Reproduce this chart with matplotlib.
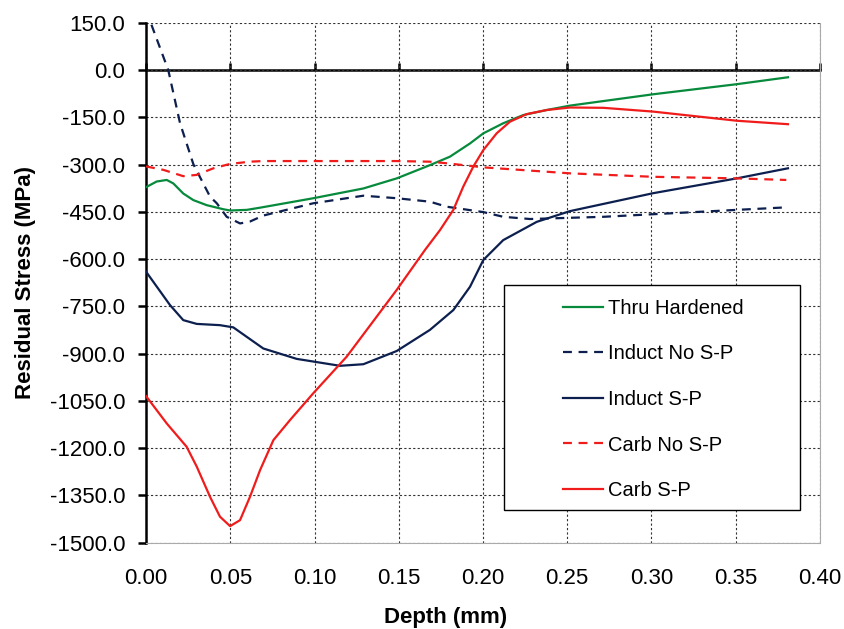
import matplotlib
matplotlib.use("Agg")
from matplotlib import pyplot as plt
from matplotlib.patches import Rectangle
from matplotlib.ticker import FormatStrFormatter, MultipleLocator

plt.rcParams['font.family'] = ['Liberation Sans', 'DejaVu Sans']

# values
thru_x = [0.0, 0.0063, 0.0123, 0.0162, 0.0221, 0.0281, 0.036, 0.0459, 0.0499, 0.0598,
          0.0677, 0.0993, 0.129, 0.1488, 0.1685, 0.1804, 0.1923, 0.2002, 0.212, 0.2239,
          0.2378, 0.2516, 0.301, 0.3506, 0.381]
thru_y = [-372, -354, -349, -360, -392, -413, -429, -442, -446, -444,
          -437, -407, -376, -344, -302, -275, -233, -201, -169, -143,
          -127, -113, -77, -45, -23]

ind_nosp_x = [0.0, 0.0132, 0.0202, 0.0281, 0.038, 0.042, 0.0479, 0.0558, 0.0617, 0.0696,
              0.0993, 0.129, 0.1488, 0.1685, 0.1785, 0.2002, 0.212, 0.2279, 0.2714, 0.311,
              0.3506, 0.38]
ind_nosp_y = [190, 0, -169, -299, -402, -423, -466, -487, -481, -462,
              -423, -399, -407, -418, -434, -451, -466, -473, -466, -455,
              -444, -436]

ind_sp_x = [0.0, 0.0142, 0.0221, 0.0301, 0.0439, 0.0518, 0.0696, 0.0894, 0.1151, 0.129,
            0.1488, 0.1685, 0.1824, 0.1923, 0.2002, 0.212, 0.2319, 0.2516, 0.301, 0.3506, 0.381]
ind_sp_y = [-640, -746, -794, -806, -810, -817, -884, -917, -939, -934,
            -892, -825, -762, -688, -603, -540, -482, -448, -391, -344, -312]

carb_nosp_x = [0.0, 0.0103, 0.0221, 0.030, 0.04, 0.0499, 0.0617, 0.0696, 0.1488, 0.1685,
               0.1785, 0.2002, 0.2516, 0.301, 0.3506, 0.38]
carb_nosp_y = [-306, -317, -337, -333, -312, -298, -291, -289, -289, -291,
               -296, -309, -328, -339, -344, -349]

carb_sp_x = [0.0, 0.0123, 0.0241, 0.0301, 0.038, 0.0439, 0.0499, 0.0558, 0.0617, 0.0677,
             0.0756, 0.0855, 0.0993, 0.1191, 0.1488, 0.1656, 0.1745, 0.1824, 0.1883, 0.1942,
             0.2002, 0.2081, 0.216, 0.2259, 0.2378, 0.2516, 0.2714, 0.301, 0.3506, 0.381]
carb_sp_y = [-1035, -1122, -1196, -1259, -1355, -1418, -1448, -1429, -1355, -1270,
             -1175, -1111, -1026, -910, -698, -571, -508, -444, -370, -307,
             -254, -201, -164, -140, -127, -119, -120, -132, -161, -172]

green = '#078a3c'
navy = '#0c1f4f'
red = '#f01c1c'

fig = plt.figure(figsize=(8.45, 6.29), dpi=100)
ax = fig.add_axes([0.1728, 0.1375, 0.7976, 0.8263])

ax.plot(thru_x, thru_y, color=green, lw=1.6, label='Thru Hardened', zorder=3)
ax.plot(ind_nosp_x, ind_nosp_y, color=navy, lw=1.6, ls=(0, (4, 3)), label='Induct No S-P', zorder=3)
ax.plot(ind_sp_x, ind_sp_y, color=navy, lw=1.6, label='Induct S-P', zorder=3)
ax.plot(carb_nosp_x, carb_nosp_y, color=red, lw=1.6, ls=(0, (4, 3)), label='Carb No S-P', zorder=3)
ax.plot(carb_sp_x, carb_sp_y, color=red, lw=1.6, label='Carb S-P', zorder=3)

ax.set_xlim(0, 0.40)
ax.set_ylim(-1500, 150)
ax.xaxis.set_major_locator(MultipleLocator(0.05))
ax.yaxis.set_major_locator(MultipleLocator(150))
ax.xaxis.set_major_formatter(FormatStrFormatter('%.2f'))
ax.yaxis.set_major_formatter(FormatStrFormatter('%.1f'))
ax.grid(True, color='#333333', lw=0.8, ls=(0, (2, 2)), zorder=1)
ax.set_axisbelow(True)

ax.tick_params(axis='x', length=0, pad=18, labelsize=16)
ax.tick_params(axis='y', direction='out', length=6, width=1.8, pad=9, labelsize=16)
ax.spines['top'].set_visible(False)
ax.spines['left'].set_linewidth(1.8)
ax.spines['bottom'].set_color('#aaaaaa')
ax.spines['right'].set_color('#aaaaaa')

# x axis line crossing at zero stress, ticks pointing up
zero_axis = ax.secondary_xaxis(1500 / 1650)
zero_axis.xaxis.set_major_locator(MultipleLocator(0.05))
zero_axis.tick_params(direction='out', length=5, width=1.8,
                      labeltop=False, labelbottom=False)
zero_axis.spines['top'].set_linewidth(1.8)
zero_axis.spines['bottom'].set_linewidth(1.8)

ax.set_xlabel('Depth (mm)', fontsize=16, fontweight='bold')
ax.xaxis.set_label_coords(0.445, -0.125)
ax.set_ylabel('Residual Stress (MPa)', fontsize=16, fontweight='bold', labelpad=10)

box = Rectangle((0.531, 0.0625), 0.44, 0.433, transform=ax.transAxes,
                facecolor='white', edgecolor='black', lw=1, zorder=4)
ax.add_patch(box)
leg = ax.legend(loc='upper left', bbox_to_anchor=(0.618, 0.469), frameon=False,
                fontsize=14.5, handlelength=2.0, handletextpad=0.25,
                labelspacing=1.32, borderpad=0, borderaxespad=0)
leg.set_zorder(5)

fig.savefig('out.png', dpi=100)
